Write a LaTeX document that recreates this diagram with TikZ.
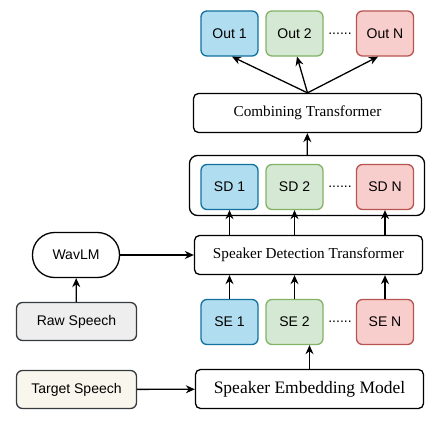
\documentclass[tikz,border=0pt]{standalone}
\usepackage{fontspec}
\setmainfont{Liberation Serif}
\setsansfont{Liberation Sans}
\usetikzlibrary{positioning}
\usetikzlibrary{arrows.meta}

\definecolor{bluefill}{HTML}{B1DDF0}
\definecolor{bluedraw}{HTML}{10739E}
\definecolor{greenfill}{HTML}{D5E8D4}
\definecolor{greendraw}{HTML}{82B366}
\definecolor{redfill}{HTML}{F8CECC}
\definecolor{reddraw}{HTML}{B85450}
\definecolor{grayfill}{HTML}{EEEEEE}
\definecolor{creamfill}{HTML}{F9F7ED}
\definecolor{darkline}{HTML}{36393D}

\begin{document}
\begin{tikzpicture}[x=1pt, y=-1pt,
		line width=1.3pt,
		>={Stealth[length=9pt, width=8pt]},
		spk/.style={draw, rounded corners=6pt, inner sep=0pt, minimum width=57pt, minimum height=45pt,
			font=\sffamily\fontsize{14}{16}\selectfont},
		blue/.style={spk, fill=bluefill, draw=bluedraw},
		green/.style={spk, fill=greenfill, draw=greendraw},
		red/.style={spk, fill=redfill, draw=reddraw},
		trans/.style={draw, rounded corners=5pt, inner sep=0pt, minimum width=228pt, minimum height=39pt,
			font=\rmfamily\fontsize{15.2}{18}\selectfont},
		inbox/.style={draw=darkline, rounded corners=6pt, inner sep=0pt, minimum width=120pt, minimum height=38pt,
			font=\sffamily\fontsize{14}{16}\selectfont},
		dots/.style={inner sep=0pt, font=\sffamily\fontsize{14}{16}\selectfont}
	]
	\useasboundingbox[fill=white] (0,0) rectangle (437,421);

	% outputs
	\node[blue]  (out1) at (229.5,33.5) {Out 1};
	\node[green] (out2) at (294.5,33.5) {Out 2};
	\node[red]   (outn) at (385,33.5) {Out N};
	\node[dots]  (outdots) at (340,33.5) {......};

	\node[trans] (comb) at (307.5,113) {Combining Transformer};

	% speaker detection
	\node[draw, rounded corners=8pt, minimum width=235pt, minimum height=60pt] (sdbox) at (307,185.5) {};
	\node[blue]  (sd1) at (229.5,187) {SD 1};
	\node[green] (sd2) at (294.5,187) {SD 2};
	\node[red]   (sdn) at (385,187) {SD N};
	\node[dots]  (sddots) at (340,187) {......};

	\node[trans] (sdt) at (308.5,255) {Speaker Detection Transformer};

	% speaker embeddings
	\node[blue]  (se1) at (229.5,322) {SE 1};
	\node[green] (se2) at (294.5,322) {SE 2};
	\node[red]   (sen) at (385,322) {SE N};
	\node[dots]  (sedots) at (340,322) {......};

	\node[trans, font=\rmfamily\fontsize{17.5}{20}\selectfont] (sem) at (309.5,389) {Speaker Embedding Model};

	% inputs
	\node[draw, rounded corners=22pt, inner sep=0pt, minimum width=87pt, minimum height=45pt,
		font=\sffamily\fontsize{14}{16}\selectfont] (wavlm) at (76,255) {WavLM};
	\node[inbox, fill=grayfill] (raw) at (76.5,321.5) {Raw Speech};
	\node[inbox, fill=creamfill] (target) at (76.5,389.5) {Target Speech};

	% connectors
	\draw[->] (raw) -- (wavlm);
	\draw[->] (wavlm) -- (sdt);
	\draw[->] (target) -- (sem);
	\draw[->] (sem.north) -- (sem.north |- se2.south);
	\foreach \i in {1,2,n} {
		\draw[->] (se\i) -- (se\i |- sdt.south);
		\draw[->] (sdt.north -| sd\i) -- (sd\i);
	}
	\draw[->] (sdbox) -- (comb);
	\draw[->] (comb.north) -- ([xshift=2.5pt]out1.south);
	\draw[->] (comb.north) -- ([xshift=2.5pt]out2.south);
	\draw[->] (comb.north) -- ([xshift=-7pt]outn.south);
\end{tikzpicture}
\end{document}
